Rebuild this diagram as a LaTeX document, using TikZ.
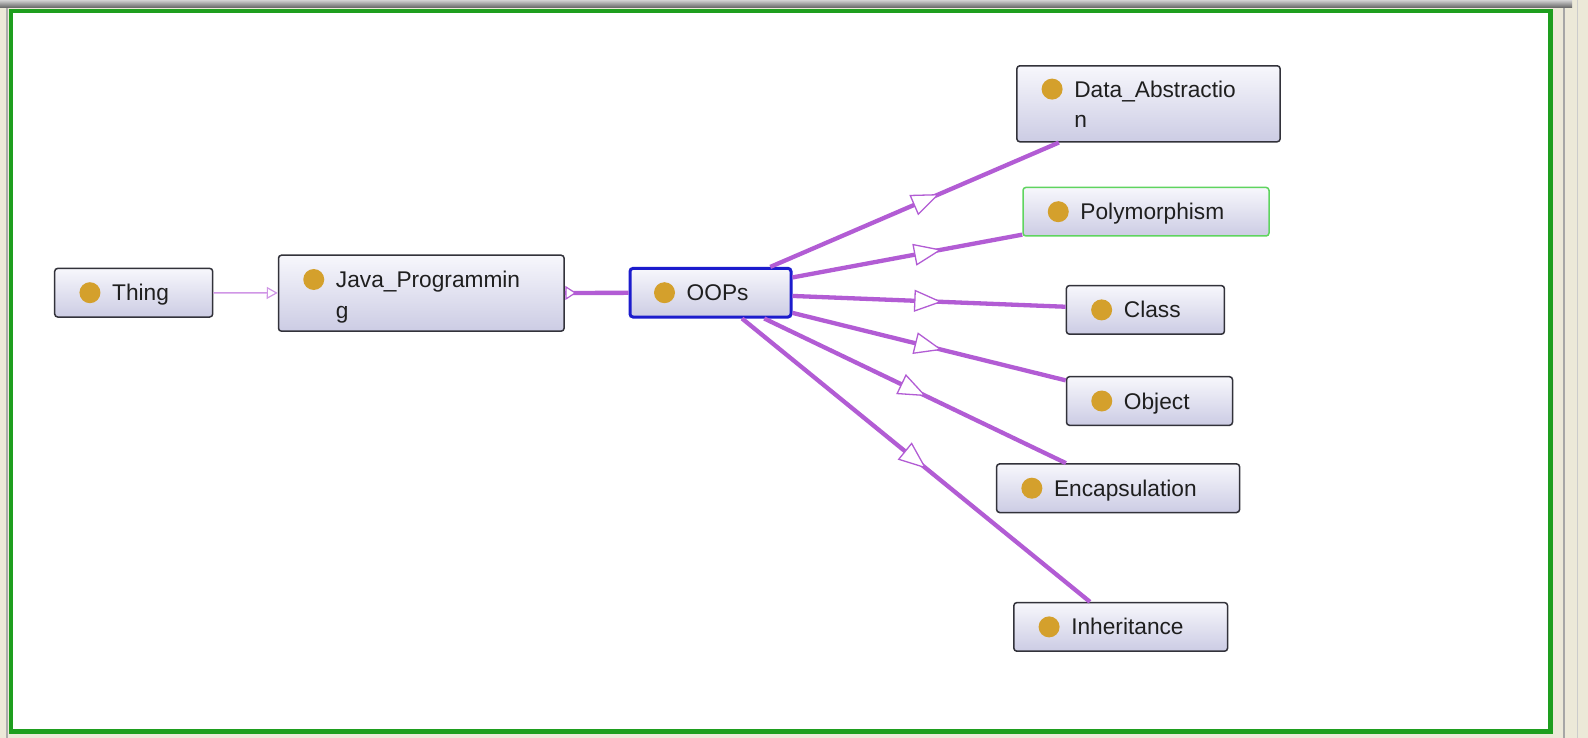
\documentclass[tikz,border=0pt]{standalone}
\usepackage{fontspec}
\setmainfont{Liberation Sans}
\usetikzlibrary{arrows.meta,decorations.markings}

\definecolor{edgec}{RGB}{178,92,212}
\definecolor{edgelight}{RGB}{208,150,230}
\definecolor{dotc}{RGB}{212,160,44}
\definecolor{framegreen}{RGB}{30,158,30}
\definecolor{bluec}{RGB}{28,28,205}
\definecolor{polyg}{RGB}{95,212,95}
\definecolor{beige}{RGB}{236,233,216}
\definecolor{boxtop}{RGB}{247,247,252}
\definecolor{boxbot}{RGB}{204,204,228}
\definecolor{bordc}{RGB}{50,50,58}

\tikzset{
  cls/.style={draw=bordc, line width=1.5pt, rounded corners=3pt,
    top color=boxtop, bottom color=boxbot, inner sep=0pt},
  dotn/.style={circle, fill=dotc, minimum size=21pt, inner sep=0pt},
  lbl/.style={anchor=base west, font=\fontsize{22.7}{30}\selectfont,
    text=black!88, inner sep=0pt},
  edge/.style={draw=edgec, line width=4.3pt},
  tri/.style={postaction={decorate}, decoration={markings,
    mark=at position #1 with {\arrow{Triangle[length=28pt,width=22pt,fill=white,line width=1.3pt]}}}},
  smalltri/.style={postaction={decorate}, decoration={markings,
    mark=at position #1 with {\arrow{Triangle[length=11pt,width=14pt,fill=white,line width=1.2pt]}}}}
}

\begin{document}
\begin{tikzpicture}[x=1pt,y=-1pt]
\useasboundingbox (0,0) rectangle (1588,738);
% window frame
\fill[beige] (0,0) rectangle (1588,738);
\shade[top color=gray!35, bottom color=gray!75!black] (0,0) rectangle (1572,8);
\draw[gray!65, line width=2pt] (7,8) -- (7,738);
\draw[gray!70, line width=2pt] (1564,8) -- (1564,738);
\draw[gray!40, line width=1pt] (1577,0) -- (1577,738);
\fill[white] (11,11) rectangle (1550.5,731.5);
\draw[framegreen, line width=4.5pt] (11,11) rectangle (1550.5,731.5);

% class boxes
\node[cls, minimum width=158pt, minimum height=48.6pt] (thing) at (133.7,292.7) {};
\node[cls, minimum width=285.6pt, minimum height=76pt] (java) at (421.3,293.2) {};
\node[cls, draw=bluec, line width=3pt, minimum width=161pt, minimum height=48.6pt] (oops) at (710.5,292.7) {};
\node[cls, minimum width=263.3pt, minimum height=76pt] (da) at (1148.5,103.8) {};
\node[cls, draw=polyg, minimum width=246pt, minimum height=48.6pt] (poly) at (1146,211.7) {};
\node[cls, minimum width=158pt, minimum height=48.6pt] (class) at (1145.4,309.9) {};
\node[cls, minimum width=166pt, minimum height=48.6pt] (object) at (1149.5,401) {};
\node[cls, minimum width=243pt, minimum height=48.6pt] (encap) at (1118.1,488.2) {};
\node[cls, minimum width=213.7pt, minimum height=48.6pt] (inherit) at (1120.7,626.9) {};

% dots
\node[dotn] (thingD) at ([xshift=36pt]thing.west) {};
\node[dotn] (javaD) at ([xshift=36pt,yshift=13.7pt]java.west) {};
\node[dotn] (oopsD) at ([xshift=36pt]oops.west) {};
\node[dotn] (daD) at ([xshift=36pt,yshift=14.7pt]da.west) {};
\node[dotn] (polyD) at ([xshift=36pt]poly.west) {};
\node[dotn] (classD) at ([xshift=36pt]class.west) {};
\node[dotn] (objectD) at ([xshift=36pt]object.west) {};
\node[dotn] (encapD) at ([xshift=36pt]encap.west) {};
\node[dotn] (inheritD) at ([xshift=36pt]inherit.west) {};

% labels
\node[lbl] (thingL) at ([xshift=58pt,yshift=-8pt]thing.west) {Thing};
\node[lbl] (javaL1) at ([xshift=58pt,yshift=5.7pt]java.west) {Java\_Programmin};
\node[lbl] (javaL2) at ([xshift=58pt,yshift=-24.8pt]java.west) {g};
\node[lbl] (oopsL) at ([xshift=58pt,yshift=-8pt]oops.west) {OOPs};
\node[lbl] (daL1) at ([xshift=58pt,yshift=6.7pt]da.west) {Data\_Abstractio};
\node[lbl] (daL2) at ([xshift=58pt,yshift=-23.8pt]da.west) {n};
\node[lbl] (polyL) at ([xshift=58pt,yshift=-8pt]poly.west) {Polymorphism};
\node[lbl] (classL) at ([xshift=58pt,yshift=-8pt]class.west) {Class};
\node[lbl] (objectL) at ([xshift=58pt,yshift=-8pt]object.west) {Object};
\node[lbl] (encapL) at ([xshift=58pt,yshift=-8pt]encap.west) {Encapsulation};
\node[lbl] (inheritL) at ([xshift=58pt,yshift=-8pt]inherit.west) {Inheritance};

% connectors
\draw[draw=edgelight, line width=1.6pt,
  -{Triangle[open, length=11pt, width=12pt, line width=1.2pt]}] (thing) -- (java);
\draw[edge, smalltri=0.18] (java) -- (oops);
\draw[edge, tri=0.586] (oops) -- (da);
\draw[edge, tri=0.65] (oops) -- (poly);
\draw[edge, tri=0.548] (oops) -- (class);
\draw[edge, tri=0.548] (oops) -- (object);
\draw[edge, tri=0.537] (oops) -- (encap);
\draw[edge, tri=0.53] (oops) -- (inherit);
\end{tikzpicture}
\end{document}
